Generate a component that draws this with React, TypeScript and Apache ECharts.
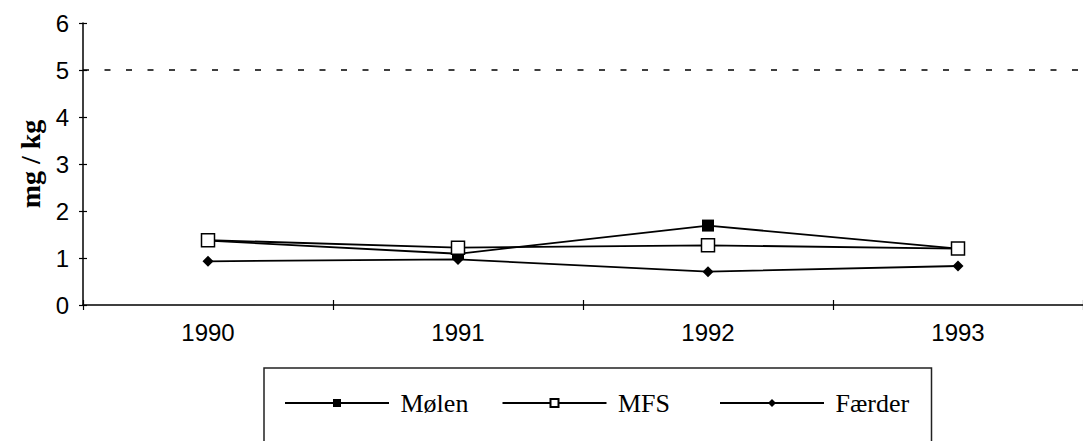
import React, { useEffect, useRef } from "react";
import * as echarts from "echarts";

const years = ["1990", "1991", "1992", "1993"];
const molen = [1.37, 1.09, 1.69, 1.2];
const mfs = [1.38, 1.22, 1.27, 1.2];
const faerder = [0.93, 0.97, 0.71, 0.83];
const limitValue = 5;
const yMin = 0;
const yMax = 6;
const yStep = 1;

export default function App() {
  const ref = useRef<HTMLDivElement>(null);
  useEffect(() => {
    if (!ref.current) return;
    const chart = echarts.init(ref.current, null, { renderer: "svg" });
    const black = "#000";
    chart.setOption({
      animation: false,
      backgroundColor: "#fff",
      grid: { left: 83, top: 23, width: 1012, height: 282, containLabel: false },
      xAxis: [
        {
          type: "category",
          data: years,
          position: "bottom",
          boundaryGap: true,
          axisLine: { show: true, lineStyle: { color: black, width: 1.5 } },
          axisTick: { show: true, length: 5, lineStyle: { color: black, width: 1.2 } },
          axisLabel: {
            fontFamily: "Liberation Sans, Arial",
            fontSize: 24,
            color: black,
            margin: 15,
          },
          splitLine: { show: false },
        },
        {
          type: "category",
          data: years,
          position: "bottom",
          offset: -5,
          boundaryGap: true,
          axisLine: { show: false },
          axisTick: { show: true, length: 5, lineStyle: { color: black, width: 1.2 } },
          axisLabel: { show: false },
          splitLine: { show: false },
        },
      ],
      yAxis: [
        {
          type: "value",
          min: yMin,
          max: yMax,
          interval: yStep,
          position: "left",
          name: "mg / kg",
          nameLocation: "middle",
          nameRotate: 90,
          nameGap: 38,
          nameTextStyle: {
            fontFamily: "Liberation Serif, Times New Roman, serif",
            fontWeight: "bold",
            fontSize: 28,
            color: black,
          },
          axisLine: { show: true, lineStyle: { color: black, width: 1.5 } },
          axisTick: { show: true, length: 4, lineStyle: { color: black, width: 1.2 } },
          axisLabel: {
            fontFamily: "Liberation Sans, Arial",
            fontSize: 24,
            color: black,
            margin: 14,
          },
          splitLine: { show: false },
        },
        {
          type: "value",
          min: yMin,
          max: yMax,
          interval: yStep,
          position: "left",
          offset: -4,
          axisLine: { show: false },
          axisTick: { show: true, length: 4, lineStyle: { color: black, width: 1.2 } },
          axisLabel: { show: false },
          splitLine: { show: false },
        },
      ],
      legend: {
        show: true,
        left: 264,
        top: 368,
        orient: "horizontal",
        itemWidth: 104,
        itemHeight: 10,
        itemGap: 10,
        padding: [20, 5, 60, 20],
        borderColor: "#222",
        borderWidth: 1.5,
        formatter: (name: string) => " " + name,
        textStyle: {
          fontFamily: "Liberation Serif, Times New Roman, serif",
          fontSize: 26,
          lineHeight: 30,
          color: black,
          width: 97.5,
        },
        data: ["Mølen", "MFS", "Færder"],
      },
      series: [
        {
          name: "Mølen",
          type: "line",
          data: molen,
          symbol: "rect",
          symbolSize: 12,
          itemStyle: { color: black },
          lineStyle: { color: black, width: 1.8 },
          markLine: {
            silent: true,
            symbol: "none",
            label: { show: false },
            lineStyle: { color: black, width: 1.5, type: [6, 15.5] },
            data: [{ yAxis: limitValue }],
          },
        },
        {
          name: "MFS",
          type: "line",
          data: mfs,
          symbol: "rect",
          symbolSize: 13,
          itemStyle: { color: "#fff", borderColor: black, borderWidth: 1.5 },
          lineStyle: { color: black, width: 1.8 },
        },
        {
          name: "Færder",
          type: "line",
          data: faerder,
          symbol: "diamond",
          symbolSize: 11,
          itemStyle: { color: black },
          lineStyle: { color: black, width: 1.8 },
        },
      ],
    });
    return () => chart.dispose();
  }, []);
  return (
    <div
      ref={ref}
      style={{ position: "fixed", left: 0, top: 0, width: 1083, height: 441, background: "#fff" }}
    />
  );
}
